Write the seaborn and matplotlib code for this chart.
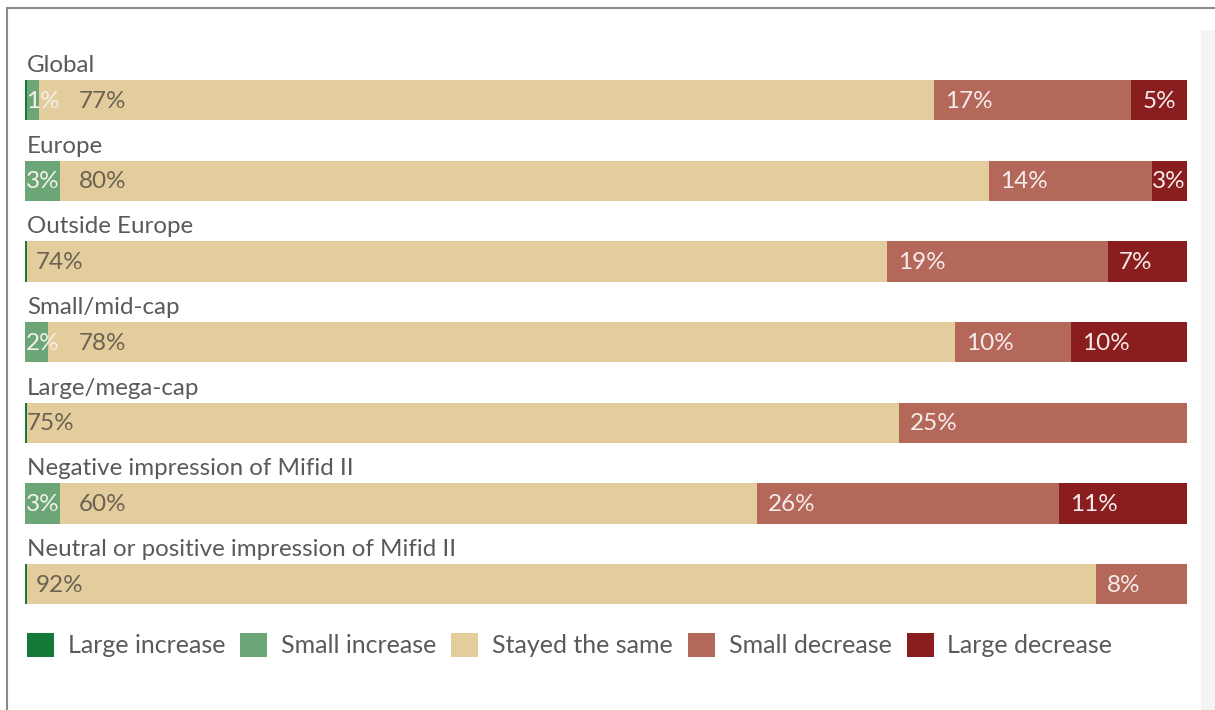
import matplotlib
matplotlib.use("Agg")
import matplotlib.pyplot as plt
import matplotlib.patches as mpatches
import numpy as np
import pandas as pd
import seaborn as sns

categories = ["Global", "Europe", "Outside Europe", "Small/mid-cap", "Large/mega-cap",
              "Negative impression of Mifid II", "Neutral or positive impression of Mifid II"]
large_increase = [0.2, 0, 0.2, 0, 0.2, 0, 0.2]
small_increase = [1, 3, 0, 2, 0, 3, 0]
stayed_same = [77, 80, 74, 78, 75, 60, 92]
small_decrease = [17, 14, 19, 10, 25, 26, 8]
large_decrease = [5, 3, 7, 10, 0, 11, 0]
series_names = ["Large increase", "Small increase", "Stayed the same", "Small decrease", "Large decrease"]
colors = ["#137a38", "#6ca677", "#e3cd9c", "#b4685a", "#8a1d1d"]

sns.set_theme(style="white")
plt.rcParams['font.family'] = ['Lato', 'DejaVu Sans']

series = [large_increase, small_increase, stayed_same, small_decrease, large_decrease]
df = pd.DataFrame({name: vals for name, vals in zip(series_names, series)}, index=categories)
cum = df.cumsum(axis=1)
starts = cum - df

W, H = 1215, 710
fig = plt.figure(figsize=(W / 100, H / 100), dpi=100)
fig.patch.set_facecolor("white")

# right light strip and frame
fig.add_artist(mpatches.Rectangle((1201 / W, 0), 14 / W, 1 - 30 / H, transform=fig.transFigure,
                                  facecolor="#f4f4f4", edgecolor="none", zorder=0))
fig.add_artist(plt.Line2D([7 / W, 7 / W], [0, 1 - 8 / H], transform=fig.transFigure, color="#8a8a8a", lw=1.5))
fig.add_artist(plt.Line2D([7 / W, 1], [1 - 8 / H, 1 - 8 / H], transform=fig.transFigure, color="#8a8a8a", lw=1.5))

ax = fig.add_axes([25 / W, 1 - 620 / H, 1162 / W, 600 / H])

# draw cumulative layers, largest first
for name, col in reversed(list(zip(series_names, colors))):
    d = pd.DataFrame({"cat": categories, "val": cum[name].values})
    sns.barplot(data=d, x="val", y="cat", color=col, width=0.5, ax=ax,
                saturation=1, edgecolor="none", linewidth=0)

ax.set_xlim(0, 100)
ax.set_ylim(6.446, -0.992)
ax.axis("off")

fs_cat = 17.4
fs_val = 17.5
fs_leg = 18
for i, cat in enumerate(categories):
    ax.annotate(cat, xy=(0, i - 0.25), xytext=(2, 8), textcoords="offset pixels",
                ha="left", va="baseline", fontsize=fs_cat, color="#5a5a5a")
    # green label
    if small_increase[i] > 0:
        ax.annotate(f"{small_increase[i]}%", xy=(0, i), xytext=(1, -1), textcoords="offset pixels",
                    ha="left", va="center", fontsize=fs_val, color="#f4f1ea")
        off = 54
    else:
        off = 11 if i != 4 else 2
    ax.annotate(f"{stayed_same[i]}%", xy=(0, i), xytext=(off, -1), textcoords="offset pixels",
                ha="left", va="center", fontsize=fs_val, color="#6b6254")
    for name in ["Small decrease", "Large decrease"]:
        v = df.loc[cat, name]
        if v > 0:
            o = 11 if v > 3 else 0
            ax.annotate(f"{v:g}%", xy=(starts.loc[cat, name], i), xytext=(o, -1),
                        textcoords="offset pixels", ha="left", va="center",
                        fontsize=fs_val, color="#f6ecec")

handles = [mpatches.Patch(facecolor=c, edgecolor="none", label=n) for n, c in zip(series_names, colors)]
leg = fig.legend(handles=handles, loc="center left", bbox_to_anchor=(27 / W, 1 - 645 / H),
                 ncol=5, frameon=False, fontsize=fs_leg, handlelength=1.08, handleheight=1.08,
                 handletextpad=0.55, columnspacing=0.6, borderaxespad=0, borderpad=0)
for t in leg.get_texts():
    t.set_color("#5a5a5a")

fig.savefig("out.png", dpi=100, facecolor=fig.get_facecolor())
